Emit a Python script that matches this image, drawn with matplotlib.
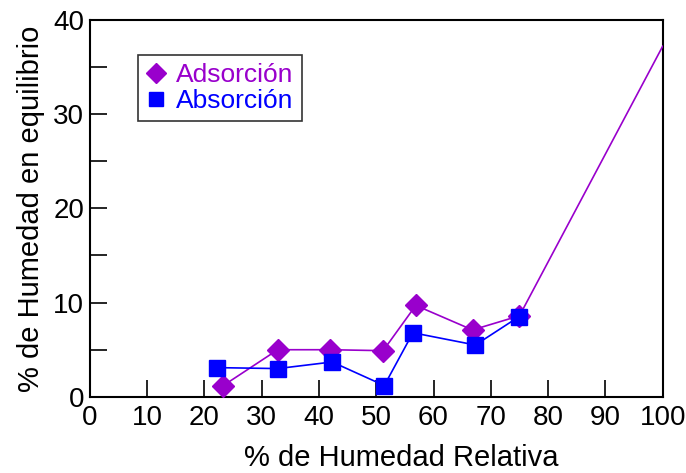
import matplotlib.pyplot as plt
from matplotlib.lines import Line2D

plt.rcParams['font.family'] = ['Liberation Sans', 'DejaVu Sans']

# Adsorción (purple diamonds); last point only carries the line to the edge
ads_x = [23.3, 32.8, 42.0, 51.2, 56.9, 66.8, 75.0, 100.0]
ads_y = [1.2, 5.0, 5.0, 4.9, 9.7, 7.1, 8.6, 37.2]

# Absorción (blue squares)
abs_x = [22.2, 32.8, 42.3, 51.4, 56.4, 67.3, 74.9]
abs_y = [3.1, 3.0, 3.7, 1.2, 6.8, 5.5, 8.5]

x_ticks = list(range(0, 101, 10))
y_ticks = [0, 10, 20, 30, 40]

purple = '#9900cc'
blue = '#0000ff'

fig = plt.figure(figsize=(6.86, 4.73), dpi=100)
ax = fig.add_axes([0.131, 0.161, 0.835, 0.797])

ax.plot(ads_x, ads_y, color=purple, lw=1.2, marker='D', ms=11,
        markevery=list(range(len(ads_x) - 1)), zorder=3)
ax.plot(abs_x, abs_y, color=blue, lw=1.2, marker='s', ms=11, zorder=4)

ax.set_xlim(0, 100)
ax.set_ylim(0, 40)
ax.set_xticks(x_ticks)
ax.set_yticks(y_ticks)
ax.set_yticks(range(5, 40, 10), minor=True)
ax.tick_params(which='both', direction='in', length=12, width=1.2,
               labelsize=20)
ax.tick_params(axis='x', pad=6)
ax.tick_params(axis='y', pad=4)
for s in ax.spines.values():
    s.set_linewidth(1.5)

ax.set_xlabel('% de Humedad Relativa', fontsize=21)
ax.xaxis.set_label_coords(0.543, -0.125, transform=ax.transAxes)
ax.set_ylabel('% de Humedad en equilibrio', fontsize=21, labelpad=6)

handles = [
    Line2D([], [], color=purple, marker='D', ls='none', ms=10),
    Line2D([], [], color=blue, marker='s', ls='none', ms=10),
]
leg = ax.legend(handles, ['Adsorción', 'Absorción'], loc='upper left',
                bbox_to_anchor=(0.084, 0.907), fontsize=19, frameon=True,
                fancybox=False, edgecolor='#333333', framealpha=1,
                handlelength=0.8, handletextpad=0.35, borderpad=0.3,
                labelspacing=0.1, borderaxespad=0)
leg.get_frame().set_linewidth(1.2)
for t, c in zip(leg.get_texts(), [purple, blue]):
    t.set_color(c)

fig.savefig('out.png', dpi=100)
